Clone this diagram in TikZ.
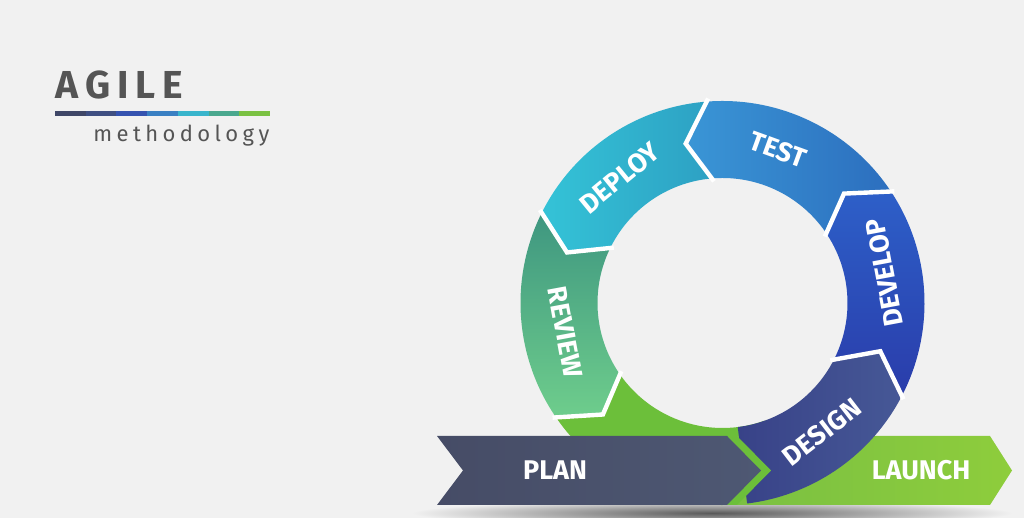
\documentclass[tikz,border=0pt]{standalone}
\usepackage{fontspec}
\setmainfont{Fira Sans}
\usepackage{tikz}
\usetikzlibrary{positioning}

\definecolor{bg}{RGB}{241,241,241}
\definecolor{titlegray}{RGB}{85,85,85}
\definecolor{bar1}{RGB}{63,71,103}
\definecolor{bar2}{RGB}{63,79,130}
\definecolor{bar3}{RGB}{53,83,176}
\definecolor{bar4}{RGB}{58,128,195}
\definecolor{bar5}{RGB}{57,181,204}
\definecolor{bar6}{RGB}{74,168,142}
\definecolor{bar7}{RGB}{122,193,66}
\definecolor{ringgreen}{RGB}{108,191,58}
\definecolor{reviewtop}{RGB}{62,150,128}
\definecolor{reviewbot}{RGB}{110,205,140}
\definecolor{deployl}{RGB}{52,195,215}
\definecolor{deployr}{RGB}{45,160,195}
\definecolor{testl}{RGB}{58,150,214}
\definecolor{testr}{RGB}{44,110,190}
\definecolor{developt}{RGB}{45,95,200}
\definecolor{developb}{RGB}{42,60,170}
\definecolor{designl}{RGB}{56,66,136}
\definecolor{designr}{RGB}{70,88,150}
\definecolor{planl}{RGB}{70,76,102}
\definecolor{planr}{RGB}{78,88,115}
\definecolor{launchl}{RGB}{122,192,66}
\definecolor{launchr}{RGB}{142,205,60}

\tikzset{
  seglabel/.style={text=white, inner sep=0pt, font=\bfseries\fontsize{13.5}{14}\selectfont},
  sepline/.style={draw=white, line width=2.2pt, line join=miter},
}

\begin{document}
\begin{tikzpicture}[x=0.5pt,y=0.5pt]
    \fill[bg] (0,0) rectangle (1024,518);
    \useasboundingbox (0,0) rectangle (1024,518);

    % title
    \node[anchor=base west, inner sep=0pt, text=titlegray,
          font=\bfseries\fontsize{19.5}{20}\selectfont\addfontfeature{LetterSpace=18}] (title) at (55,419) {AGILE};
    \foreach \c [count=\i from 0] in {bar1,bar2,bar3,bar4,bar5,bar6,bar7}
        \fill[\c] (55+\i*30.7,401.5) rectangle ++(30.7,5.5);
    \node[anchor=base west, inner sep=0pt, text=titlegray,
          font=\fontsize{11}{12}\selectfont\addfontfeature{LetterSpace=20}] (subtitle) at (93,376) {methodology};

    % shadow under the bands
    \shade[inner color=black!65, outer color=bg] (712,5) ellipse [x radius=300, y radius=13];

    % ring
    \begin{scope}[shift={(722.5,215)}]
    \fill[ringgreen] (214:202) arc[start angle=214, end angle=290, radius=202] -- (290:125)
        arc[start angle=290, end angle=214, radius=125] -- (223:163.5) -- cycle;
    \shade[top color=reviewtop, bottom color=reviewbot] (153:202) arc[start angle=153, end angle=214, radius=202]
        -- (223:163.5) -- (214:125) arc[start angle=214, end angle=153, radius=125] -- (162:163.5) -- cycle;
    \shade[left color=deployl, right color=deployr] (94:202) arc[start angle=94, end angle=153, radius=202]
        -- (162:163.5) -- (153:125) arc[start angle=153, end angle=94, radius=125] -- (103:163.5) -- cycle;
    \shade[left color=testl, right color=testr] (33:202) arc[start angle=33, end angle=94, radius=202]
        -- (103:163.5) -- (94:125) arc[start angle=94, end angle=33, radius=125] -- (42:163.5) -- cycle;
    \shade[top color=developt, bottom color=developb] (-28:202) arc[start angle=-28, end angle=33, radius=202]
        -- (42:163.5) -- (33:125) arc[start angle=33, end angle=-28, radius=125] -- (-19:163.5) -- cycle;
    \end{scope}

    % launch band, under the design arrow
    \shade[left color=launchl, right color=launchr] (735,82) -- (990,82) -- (1012,47.5) -- (990,13) -- (735,13) -- cycle;

    \begin{scope}[shift={(722.5,215)}]
    \shade[left color=designl, right color=designr] (-83:202) arc[start angle=-83, end angle=-28, radius=202]
        -- (-17:165) -- (-28:125) arc[start angle=-28, end angle=-83, radius=125] -- cycle;

    % white gaps between the arrows
    \foreach \b in {33,94,153,214}
        \draw[sepline] (\b:205) -- (\b+9:163.5) -- (\b:122);
    \draw[sepline] (-28:205) -- (-17:165) -- (-28:122);

    % labels on the ring
    \node[seglabel, rotate=37.6] (lbldesign) at (-52.4:163) {DESIGN};
    \node[seglabel, rotate=100.6] (lbldevelop) at (10.6:165) {DEVELOP};
    \node[seglabel, rotate=-20] (lbltest) at (70:163) {TEST};
    \node[seglabel, rotate=39.4] (lbldeploy) at (129.4:162) {DEPLOY};
    \node[seglabel, rotate=280.5] (lblreview) at (190.5:160) {REVIEW};
    \end{scope}

    % plan band
    \fill[ringgreen] (726,82) -- (737,82) -- (771,47.5) -- (737,13) -- (726,13) -- cycle;
    \shade[left color=planl, right color=planr] (437,82) -- (727,82) -- (761,47.5) -- (727,13) -- (437,13) -- (463,47.5) -- cycle;

    \node[seglabel] (lblplan) at (555,48) {PLAN};
    \node[seglabel] (lbllaunch) at (921,48) {LAUNCH};
\end{tikzpicture}
\end{document}
